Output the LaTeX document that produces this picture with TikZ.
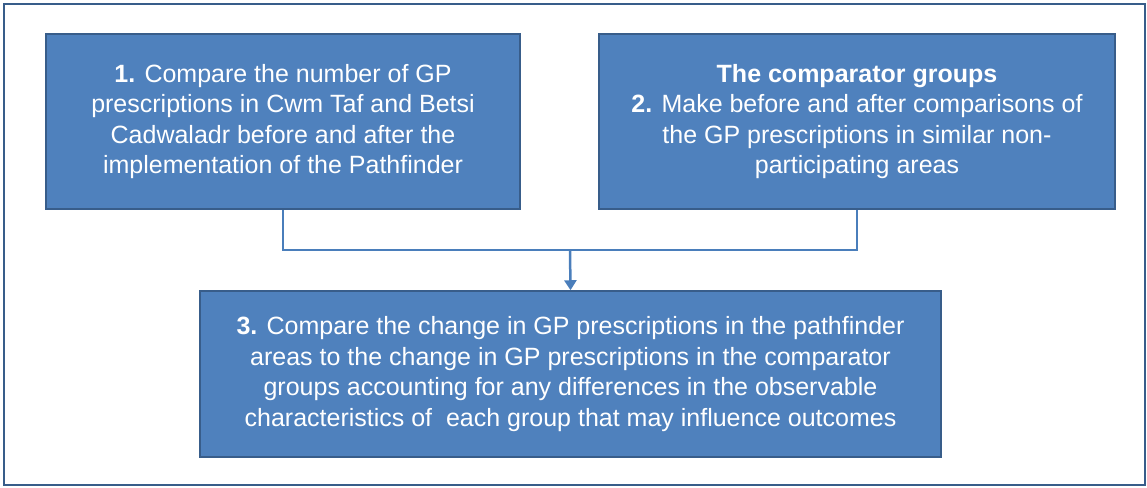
\documentclass[tikz,border=0pt]{standalone}
\usepackage{fontspec}
\setmainfont{Liberation Sans}
\usetikzlibrary{arrows.meta}
\definecolor{boxfill}{HTML}{4F81BD}
\definecolor{boxline}{HTML}{385D8A}
\definecolor{connline}{HTML}{4A7EBB}
\begin{document}
\begin{tikzpicture}[x=1pt,y=-1pt,
  stepbox/.style={draw=boxline, line width=1.5pt, fill=boxfill, text=white,
    align=center, inner sep=0pt, font=\fontsize{25}{30.5}\selectfont},
  connector/.style={draw=connline, line width=2.5pt}]
\useasboundingbox (0,0) rectangle (1147,487);
\draw[boxline, line width=2pt] (4,4) rectangle (1145,485);
\node[stepbox, minimum width=474pt, minimum height=175pt] (b1) at (283,121.5)
  {\textbf{1.} Compare the number of GP\\prescriptions in Cwm Taf and Betsi\\Cadwaladr before and after the\\implementation of the Pathfinder};
\node[stepbox, minimum width=516pt, minimum height=175pt] (b2) at (857,121.5)
  {\textbf{The comparator groups}\\\textbf{2.} Make before and after comparisons of\\the GP prescriptions in similar non-\\participating areas};
\node[stepbox, minimum width=741pt, minimum height=166pt] (b3) at (570.5,374)
  {\textbf{3.} Compare the change in GP prescriptions in the pathfinder\\areas to the change in GP prescriptions in the comparator\\groups accounting for any differences in the observable\\characteristics of \ each group that may influence outcomes};
\coordinate (j) at (570,250);
\draw[connector] (b1.south) |- (j) -| (b2.south);
\draw[connector, -{Triangle[width=12pt,length=10pt]}] (j) -- (b3.north);
\end{tikzpicture}
\end{document}
